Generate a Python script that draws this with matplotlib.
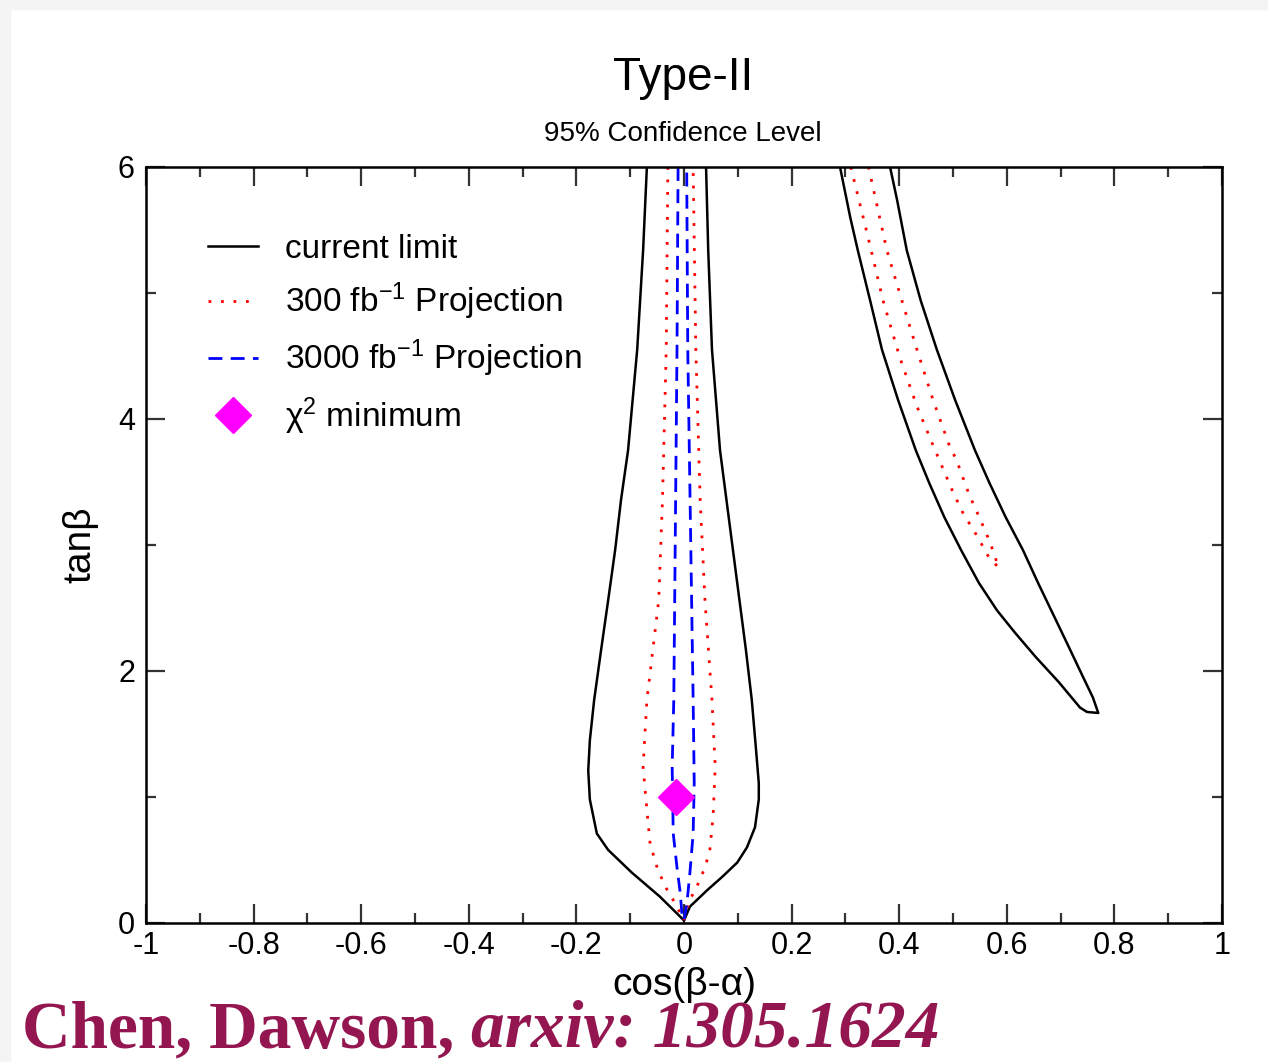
import matplotlib
matplotlib.use("Agg")
import matplotlib.pyplot as plt
from matplotlib.ticker import MultipleLocator

plt.rcParams["font.family"] = ["Liberation Sans", "DejaVu Sans"]
plt.rcParams["mathtext.fontset"] = "custom"
plt.rcParams["mathtext.rm"] = "Liberation Sans"
plt.rcParams["mathtext.it"] = "Liberation Sans"

# current limit, central band (closed contour, left side down, right side up)
cur_c_x = [-0.069, -0.076, -0.087, -0.104, -0.117, -0.128, -0.141, -0.154, -0.167, -0.175,
           -0.178, -0.175, -0.162, -0.141, -0.097, -0.045, -0.007, 0.0,
           0.011, 0.043, 0.072, 0.099, 0.117, 0.132, 0.139, 0.139, 0.134, 0.126, 0.115,
           0.091, 0.067, 0.052, 0.045, 0.041]
cur_c_y = [6.0, 5.34, 4.55, 3.75, 3.36, 2.96, 2.56, 2.17, 1.77, 1.45,
           1.21, 0.98, 0.71, 0.58, 0.40, 0.21, 0.05, 0.02,
           0.13, 0.26, 0.37, 0.48, 0.60, 0.76, 0.98, 1.11, 1.37, 1.77, 2.17,
           2.96, 3.75, 4.55, 5.34, 6.0]
# current limit, right band
cur_r_x = [0.290, 0.309, 0.323, 0.346, 0.368, 0.398, 0.431, 0.456, 0.484, 0.515, 0.548,
           0.582, 0.616, 0.654, 0.697, 0.736, 0.749, 0.770,
           0.760, 0.742, 0.712, 0.685, 0.658, 0.630, 0.598, 0.568, 0.541, 0.504, 0.470,
           0.440, 0.414, 0.396, 0.383]
cur_r_y = [6.0, 5.60, 5.34, 4.94, 4.55, 4.15, 3.75, 3.49, 3.22, 2.96, 2.70,
           2.48, 2.30, 2.11, 1.91, 1.71, 1.675, 1.667,
           1.79, 1.95, 2.22, 2.46, 2.70, 2.96, 3.22, 3.49, 3.75, 4.15, 4.55,
           4.94, 5.34, 5.74, 6.0]

# 300 fb-1 projection
p300_c_x = [-0.030, -0.033, -0.040, -0.047, -0.069, -0.076, -0.069, -0.063, -0.050, -0.035,
            -0.017, 0.0,
            0.008, 0.024, 0.039, 0.048, 0.054, 0.058, 0.052, 0.039, 0.030, 0.022, 0.017]
p300_c_y = [6.0, 4.55, 3.36, 2.56, 1.77, 1.24, 0.90, 0.63, 0.44, 0.29,
            0.16, 0.02,
            0.16, 0.29, 0.44, 0.58, 0.84, 1.24, 1.77, 2.56, 3.36, 4.55, 6.0]
p300_r_x = [0.310, 0.340, 0.370, 0.401, 0.433, 0.461, 0.470, 0.498, 0.519, 0.545, 0.567, 0.585,
            0.569, 0.550, 0.530, 0.506, 0.494, 0.463, 0.433, 0.405, 0.377, 0.343]
p300_r_y = [6.0, 5.48, 4.94, 4.49, 4.10, 3.81, 3.72, 3.44, 3.25, 3.07, 2.90, 2.82,
            3.02, 3.21, 3.40, 3.68, 3.78, 4.15, 4.55, 4.94, 5.34, 6.0]

# 3000 fb-1 projection
p3000_x = [-0.011, -0.013, -0.019, -0.022, -0.020, -0.013, -0.007, -0.004, 0.0,
           0.006, 0.011, 0.017, 0.019, 0.017, 0.007, 0.005]
p3000_y = [6.0, 4.55, 1.77, 1.24, 0.71, 0.44, 0.24, 0.08, 0.02,
           0.18, 0.40, 0.71, 1.11, 1.77, 4.55, 6.0]

chi2_min = (-0.015, 1.0)

xticks = [-1, -0.8, -0.6, -0.4, -0.2, 0, 0.2, 0.4, 0.6, 0.8, 1]
xtick_labels = ["-1", "-0.8", "-0.6", "-0.4", "-0.2", "0", "0.2", "0.4", "0.6", "0.8", "1"]
yticks = [0, 2, 4, 6]
ytick_labels = ["0", "2", "4", "6"]

fig = plt.figure(figsize=(12.68, 10.62), dpi=100, facecolor="white")
# grey strip on the top and left edge, like the screenshot
fig.patches.append(plt.Rectangle((0, 0), 10 / 1268, 1, transform=fig.transFigure,
                                 color="#f4f4f4", zorder=0))
fig.patches.append(plt.Rectangle((0, 1 - 9 / 1062), 1, 9 / 1062, transform=fig.transFigure,
                                 color="#f4f4f4", zorder=0))

ax = fig.add_axes([146 / 1268, 1 - 923 / 1062, (1222 - 146) / 1268, (923 - 167) / 1062])

ax.plot(cur_c_x, cur_c_y, color="black", lw=1.8, label="current limit")
ax.plot(cur_r_x, cur_r_y, color="black", lw=1.8)
ax.plot(p300_c_x, p300_c_y, color="red", lw=2.0, ls=(0, (1, 3.5)),
        label="300 fb$^{-1}$ Projection")
ax.plot(p300_r_x, p300_r_y, color="red", lw=2.0, ls=(0, (1, 3.5)))
ax.plot(p3000_x, p3000_y, color="blue", lw=2.0, ls=(0, (5, 3)),
        label="3000 fb$^{-1}$ Projection")
ax.plot([chi2_min[0]], [chi2_min[1]], ls="none", marker="D", ms=18, color="magenta",
        label="χ$^2$ minimum")

ax.set_xlim(-1, 1)
ax.set_ylim(0, 6)
ax.set_xticks(xticks)
ax.set_xticklabels(xtick_labels)
ax.set_yticks(yticks)
ax.set_yticklabels(ytick_labels)
ax.xaxis.set_minor_locator(MultipleLocator(0.1))
ax.yaxis.set_minor_locator(MultipleLocator(1))
ax.tick_params(which="both", direction="in", top=True, right=True, width=1.6, color="#333333")
ax.tick_params(which="major", length=14, labelsize=22)
ax.tick_params(which="minor", length=7)
ax.tick_params(axis="x", pad=6)
ax.tick_params(axis="y", pad=8)
for s in ax.spines.values():
    s.set_linewidth(1.8)

ax.set_xlabel("cos(β-α)", fontsize=28, labelpad=4)
ax.set_ylabel("tanβ", fontsize=28, labelpad=14)

ax.legend(loc="upper left", bbox_to_anchor=(0.03, 0.951), frameon=False, fontsize=24,
          handlelength=1.5, handletextpad=0.8, labelspacing=0.47, numpoints=1,
          markerscale=1.0)

fig.text(683 / 1268, 1 - 78 / 1062, "Type-II", fontsize=33, ha="center", va="center")
fig.text(683 / 1268, 1 - 134 / 1062, "95% Confidence Level", fontsize=20, ha="center",
         va="center")

first = fig.text(22 / 1268, 1 - 1047 / 1062, "Chen, Dawson, ", fontsize=48.5,
                 color="#941651", family="Liberation Serif", weight="bold",
                 ha="left", va="baseline")
fig.canvas.draw()
x_end = first.get_window_extent().x1
fig.text(x_end / 1268, 1 - 1047 / 1062, "arxiv: 1305.1624", fontsize=48.5, color="#941651",
         family="Liberation Serif", weight="bold", style="italic", ha="left", va="baseline")

fig.savefig("out.png", dpi=100)
